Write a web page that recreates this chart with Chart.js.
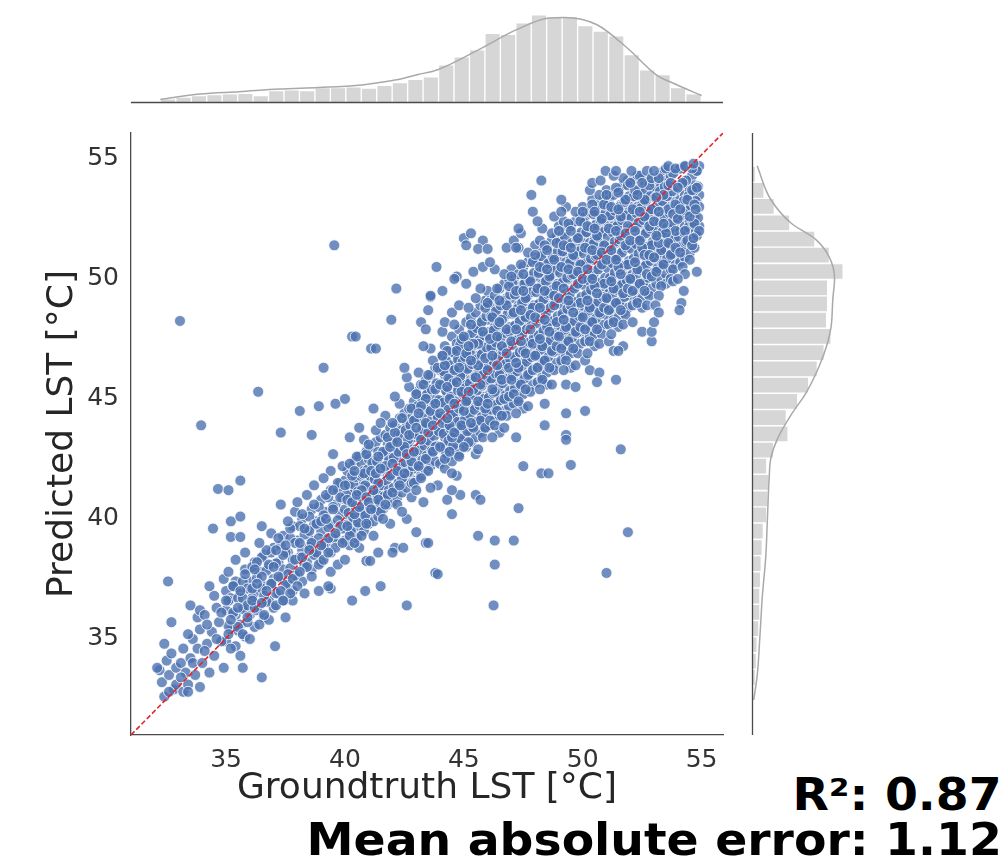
<!DOCTYPE html>
<html>
<head>
<meta charset="utf-8">
<script src="https://cdn.jsdelivr.net/npm/chart.js@4.4.1/dist/chart.umd.min.js"></script>
<style>
  body { margin: 0; background: #fff; width: 1007px; height: 865px; overflow: hidden; position: relative; }
  canvas { position: absolute; }
  #scatter { left: 0; top: 0; }
  #topHist { left: 131px; top: 0; }
  #rightHist { left: 750px; top: 133px; }
  .metric { position: absolute; right: 5px; font-family: 'DejaVu Sans', sans-serif; font-weight: bold;
            font-size: 44px; line-height: 44px; color: #000; white-space: nowrap;
            transform: scaleX(1.075); transform-origin: right center; }
</style>
</head>
<body>
<canvas id="scatter" width="740" height="865"></canvas>
<canvas id="topHist" width="592" height="104"></canvas>
<canvas id="rightHist" width="110" height="602"></canvas>
<div class="metric" style="top:773px">R²: 0.87</div>
<div class="metric" style="top:818px">Mean absolute error: 1.12</div>
<script>
// axis limits and ticks (shared by the joint plot)
const X_MIN = 31.0, X_MAX = 55.9;
const Y_MIN = 31.0, Y_MAX = 56.08;
const tickValues = [35, 40, 45, 50, 55];

// [groundtruth, predicted] pairs (fringe + scattered points)
const samples = [
  // 32-33
  [32.2,33.7],[32.4,32.6],[32.3,33.2],[32.5,34.1],[32.6,33.5],[32.8,32.9],[32.9,33.8],[32.7,34.4],[32.4,34.8],[32.9,33.1],[32.6,32.8],
  [32.56,37.4],[32.7,35.7],[33.06,48.25],[32.1,33.8],
  // 33-34
  [33.1,34.0],[33.2,32.8],[33.3,33.6],[33.2,34.6],[33.4,33.1],[33.5,34.2],[33.6,35.0],[33.7,33.5],[33.8,34.6],[33.9,33.0],[33.9,35.4],
  [33.4,35.2],[33.6,34.0],[33.1,33.4],[33.8,35.9],
  [33.95,43.9],[33.4,32.8],[33.5,36.4],[33.9,36.2],
  // 34-35
  [34.0,34.0],[34.1,36.0],[34.2,34.8],[34.3,33.6],[34.4,35.3],[34.5,34.3],[34.6,36.3],[34.7,35.7],[34.8,34.9],[34.9,33.8],[34.2,35.6],
  [34.5,36.8],[34.8,36.1],[34.3,37.2],[34.9,37.5],[34.6,35.0],[34.1,34.5],
  [34.45,39.6],[34.66,41.25],
  // 35-36
  [35.0,36.6],[35.1,35.2],[35.2,34.6],[35.3,37.2],[35.3,36.1],[35.5,35.5],[35.6,34.3],[35.7,36.7],[35.8,37.7],[35.9,35.9],[35.4,38.3],
  [35.6,37.0],[35.9,36.4],[35.2,35.8],[35.7,35.2],[35.8,38.6],[35.5,36.3],[35.1,37.8],
  [35.1,41.2],[35.6,41.6],[35.2,39.9],[35.6,40.1],[35.2,39.25],[35.6,39.25],[35.7,33.8],
  // 36-37
  [36.0,35.0],[36.1,37.1],[36.2,36.3],[36.3,38.2],[36.4,35.6],[36.5,37.6],[36.6,36.8],[36.7,38.7],[36.8,35.8],[36.9,37.3],[36.2,37.9],
  [36.4,39.0],[36.6,36.0],[36.8,38.1],[36.1,36.6],[36.5,36.5],[36.9,39.4],[36.3,37.3],[36.7,37.0],
  [36.5,39.7],[36.35,45.3],[36.5,33.4],
  // 37-38
  [37.0,38.0],[37.1,36.4],[37.2,39.2],[37.3,37.0],[37.4,38.5],[37.5,35.9],[37.6,37.7],[37.7,39.6],[37.8,36.6],[37.9,38.3],[37.2,37.6],
  [37.5,38.9],[37.7,36.9],[37.9,40.3],[37.1,38.7],[37.4,36.6],[37.6,39.9],[37.8,37.5],[37.3,40.6],
  [37.06,34.7],[37.3,43.6],
  // 38-39
  [38.0,37.2],[38.1,39.0],[38.2,40.2],[38.3,36.9],[38.4,38.0],[38.5,39.5],[38.6,37.6],[38.7,40.6],[38.8,38.6],[38.9,37.0],[38.2,38.4],
  [38.4,41.0],[38.6,39.0],[38.8,39.8],[38.1,37.8],[38.3,39.6],[38.5,38.7],[38.7,41.4],[38.9,38.1],[38.0,40.7],
  [38.1,44.5],[38.9,44.7],[38.6,43.5],
  // 39-40
  [39.0,39.9],[39.1,38.3],[39.2,41.0],[39.3,39.2],[39.4,37.8],[39.5,40.4],[39.6,38.8],[39.7,41.5],[39.8,39.7],[39.9,42.2],[39.2,40.0],
  [39.4,42.0],[39.6,39.4],[39.8,40.9],[39.1,41.7],[39.3,38.6],[39.5,41.2],[39.7,38.1],[39.9,39.0],[39.0,38.9],[39.5,42.7],
  [39.55,51.4],[39.1,46.3],[39.6,44.8],[39.4,37.1],[39.3,37.2],
  // 40-41
  [40.0,38.3],[40.1,40.8],[40.2,39.3],[40.3,41.8],[40.4,40.2],[40.5,42.6],[40.6,38.8],[40.7,41.2],[40.8,43.3],[40.9,39.8],[40.0,41.4],
  [40.2,42.3],[40.4,39.0],[40.6,40.5],[40.8,41.9],[40.1,39.7],[40.3,40.7],[40.5,41.0],[40.7,39.3],[40.9,42.7],[40.2,43.4],[40.6,43.8],
  [40.9,40.9],[40.4,42.0],
  [40.0,45.0],[40.3,47.6],[40.45,47.6],[40.3,36.6],[40.85,37.0],
  // 41-42
  [41.0,40.7],[41.1,42.0],[41.2,39.3],[41.3,43.7],[41.4,41.5],[41.5,40.3],[41.6,42.8],[41.7,44.3],[41.8,41.0],[41.9,39.8],[41.0,43.1],
  [41.2,41.2],[41.4,42.6],[41.6,40.0],[41.8,43.4],[41.1,40.4],[41.3,41.9],[41.5,44.0],[41.7,42.2],[41.9,41.8],[41.2,44.6],[41.5,42.1],
  [41.9,43.0],[41.4,40.8],[41.7,40.6],
  [41.1,47.1],[41.3,47.1],[41.95,48.3],[41.5,37.2],[41.4,38.6],[40.9,38.25],[41.06,38.25],
  // 42-43
  [42.0,42.3],[42.1,43.6],[42.2,40.6],[42.3,44.8],[42.4,41.7],[42.5,43.0],[42.6,40.0],[42.7,45.5],[42.8,42.4],[42.9,44.1],[42.0,41.1],
  [42.2,42.0],[42.4,44.2],[42.6,42.7],[42.8,40.9],[42.1,45.1],[42.3,41.4],[42.5,41.9],[42.7,43.5],[42.9,42.8],[42.2,43.2],[42.6,45.9],
  [42.8,44.6],[42.4,40.3],[42.9,41.5],[42.0,44.0],[42.5,46.3],
  [42.16,49.6],[42.1,38.8],[42.45,38.8],[42.0,38.6],[42.6,36.4],
  // 43-44
  [43.0,41.2],[43.1,46.1],[43.2,43.3],[43.3,40.7],[43.4,45.0],[43.5,42.0],[43.6,44.5],[43.7,46.6],[43.8,43.0],[43.9,41.4],[43.0,43.8],
  [43.2,44.7],[43.4,42.5],[43.6,41.3],[43.8,45.4],[43.1,42.2],[43.3,45.6],[43.5,43.6],[43.7,42.8],[43.9,44.2],[43.0,45.2],[43.2,41.7],
  [43.4,44.0],[43.6,47.1],[43.8,44.8],[43.5,46.0],[43.9,46.3],[43.1,44.4],[43.7,43.9],
  [43.85,50.5],[43.6,49.25],[43.5,48.7],[43.2,48.2],[43.4,47.9],[43.3,47.2],[43.4,39.0],[43.0,39.45],[43.8,37.75],[43.5,39.0],
  // 44-45
  [44.0,45.6],[44.1,44.0],[44.2,42.5],[44.3,47.0],[44.4,45.0],[44.5,43.4],[44.6,46.2],[44.7,41.8],[44.8,44.6],[44.9,47.5],[44.0,43.0],
  [44.2,46.4],[44.4,43.9],[44.6,44.8],[44.8,42.6],[44.1,47.8],[44.3,45.5],[44.5,41.9],[44.7,47.0],[44.9,45.3],[44.0,44.4],[44.2,48.2],
  [44.4,42.8],[44.6,43.6],[44.8,46.3],[44.3,44.2],[44.7,45.7],[44.9,43.9],[44.5,48.6],[44.1,46.8],[44.6,48.1],[44.8,48.9],
  [44.1,49.5],[43.6,49.3],[44.7,50.1],[44.6,50.0],[44.5,40.2],[44.3,40.8],[44.85,41.0],[44.5,41.2],[43.9,37.7],
  // 45-46
  [45.0,44.5],[45.1,46.9],[45.2,43.2],[45.3,48.1],[45.4,45.4],[45.5,42.7],[45.6,47.3],[45.7,44.1],[45.8,46.0],[45.9,48.8],[45.0,47.6],
  [45.2,45.3],[45.4,43.8],[45.6,46.4],[45.8,43.4],[45.1,44.9],[45.3,46.6],[45.5,49.2],[45.7,45.6],[45.9,44.6],[45.0,43.0],[45.2,48.8],
  [45.4,47.3],[45.6,42.9],[45.8,47.8],[45.3,44.0],[45.5,45.9],[45.7,49.6],[45.9,46.7],[45.1,49.8],[45.4,50.3],[45.8,50.5],[45.6,44.9],
  [45.2,47.2],[45.9,43.8],
  [45.0,51.7],[45.3,51.9],[45.1,51.4],[45.8,51.6],[45.6,51.25],[45.6,39.3],[45.5,41.0],[45.7,40.8],
  // 46-47
  [46.0,46.2],[46.1,44.1],[46.2,48.4],[46.3,45.3],[46.4,49.6],[46.5,43.6],[46.6,47.2],[46.7,45.0],[46.8,48.9],[46.9,46.3],[46.0,49.0],
  [46.2,46.8],[46.4,44.5],[46.6,48.3],[46.8,44.3],[46.1,47.5],[46.3,43.9],[46.5,46.0],[46.7,50.2],[46.9,47.8],[46.0,44.8],[46.2,45.4],
  [46.4,47.6],[46.6,45.8],[46.8,46.9],[46.3,50.4],[46.5,49.1],[46.7,43.8],[46.9,49.7],[46.1,50.7],[46.4,46.4],[46.8,47.9],[46.6,44.3],
  [46.2,43.4],[46.5,48.2],[46.9,45.1],
  [46.0,51.25],[46.8,51.3],[46.3,39.1],[46.3,38.1],[46.25,36.4],
  // 47-48
  [47.0,47.4],[47.1,45.2],[47.2,49.5],[47.3,46.3],[47.4,50.6],[47.5,44.6],[47.6,48.4],[47.7,46.0],[47.8,49.9],[47.9,47.3],[47.0,50.1],
  [47.2,47.9],[47.4,45.6],[47.6,49.2],[47.8,45.3],[47.1,48.6],[47.3,44.9],[47.5,47.0],[47.7,51.1],[47.9,48.8],[47.0,45.8],[47.2,46.5],
  [47.4,48.7],[47.6,46.9],[47.8,47.9],[47.3,51.3],[47.5,50.2],[47.7,44.7],[47.9,50.7],[47.1,51.6],[47.4,47.4],[47.8,48.5],[47.6,45.4],
  [47.2,44.4],[47.5,49.5],[47.9,46.2],
  [47.2,51.3],[47.4,51.9],[47.3,52.1],[47.84,53.5],[47.9,52.8],[47.5,42.2],[47.3,40.45],[47.1,39.1],[47.2,43.4],
  // 48-49
  [48.0,48.4],[48.1,46.3],[48.2,50.5],[48.3,47.2],[48.4,51.4],[48.5,45.6],[48.6,49.4],[48.7,47.0],[48.8,50.8],[48.9,48.2],[48.0,51.0],
  [48.2,48.8],[48.4,46.6],[48.6,50.1],[48.8,46.2],[48.1,49.6],[48.3,45.8],[48.5,48.0],[48.7,51.9],[48.9,49.7],[48.0,46.8],[48.2,47.5],
  [48.4,49.5],[48.6,47.8],[48.8,48.9],[48.3,52.1],[48.5,51.2],[48.7,45.6],[48.9,51.5],[48.1,52.4],[48.4,48.3],[48.8,49.3],[48.6,46.3],
  [48.2,45.4],[48.5,50.4],[48.9,47.2],
  [48.26,54.1],[48.8,52.6],[48.4,43.9],[48.26,41.9],[48.56,41.9],[48.4,44.8],
  // 49-50
  [49.0,49.2],[49.1,47.1],[49.2,51.4],[49.3,48.0],[49.4,52.3],[49.5,46.3],[49.6,50.2],[49.7,47.8],[49.8,51.7],[49.9,49.0],[49.0,52.0],
  [49.2,49.6],[49.4,47.4],[49.6,51.0],[49.8,46.9],[49.1,50.5],[49.3,46.6],[49.5,48.9],[49.7,52.8],[49.9,50.6],[49.0,47.6],[49.2,48.3],
  [49.4,50.4],[49.6,48.6],[49.8,49.8],[49.3,53.0],[49.5,52.0],[49.7,46.4],[49.9,52.4],[49.1,53.3],[49.4,49.1],[49.8,50.3],[49.6,47.1],
  [49.2,46.2],[49.5,51.3],[49.9,48.0],[49.3,45.6],[49.7,45.5],
  [49.1,52.8],[49.3,43.5],[49.3,43.3],[49.5,42.25],[49.3,44.4],
  // 50-51
  [50.0,50.0],[50.1,47.9],[50.2,52.2],[50.3,48.8],[50.4,53.1],[50.5,47.2],[50.6,51.0],[50.7,48.6],[50.8,52.5],[50.9,49.8],[50.0,52.8],
  [50.2,50.4],[50.4,48.2],[50.6,51.8],[50.8,47.7],[50.1,51.3],[50.3,47.4],[50.5,49.7],[50.7,53.5],[50.9,51.4],[50.0,48.4],[50.2,49.1],
  [50.4,51.2],[50.6,49.4],[50.8,50.6],[50.3,53.7],[50.5,52.8],[50.7,47.3],[50.9,53.1],[50.1,46.6],[50.4,50.0],[50.8,51.1],[50.6,47.9],
  [50.2,46.9],[50.5,52.1],[50.9,48.8],[50.3,46.2],[50.7,46.1],
  [50.4,54.0],[50.75,54.1],[50.96,54.5],[50.6,45.7],[50.1,44.5],[51.0,37.75],
  // 51-52
  [51.0,50.8],[51.1,48.7],[51.2,53.0],[51.3,49.6],[51.4,53.8],[51.5,48.0],[51.6,51.8],[51.7,49.4],[51.8,53.3],[51.9,50.6],[51.0,53.5],
  [51.2,51.2],[51.4,49.0],[51.6,52.6],[51.8,48.5],[51.1,52.1],[51.3,48.2],[51.5,50.5],[51.7,54.2],[51.9,52.2],[51.0,49.2],[51.2,49.9],
  [51.4,52.0],[51.6,50.2],[51.8,51.4],[51.3,54.3],[51.5,53.6],[51.7,48.1],[51.9,53.9],[51.1,47.4],[51.4,50.8],[51.8,51.9],[51.6,48.7],
  [51.2,47.7],[51.5,52.9],[51.9,49.6],[51.3,47.0],[51.7,47.2],
  [51.4,54.5],[51.4,45.8],[51.5,47.0],[51.6,42.9],[51.9,39.45],
  // 52-53
  [52.0,51.6],[52.1,49.5],[52.2,53.7],[52.3,50.4],[52.4,54.3],[52.5,48.8],[52.6,52.6],[52.7,50.2],[52.8,53.9],[52.9,51.4],[52.0,54.0],
  [52.2,52.0],[52.4,49.8],[52.6,53.3],[52.8,49.3],[52.1,52.9],[52.3,49.0],[52.5,51.3],[52.7,54.5],[52.9,52.9],[52.0,50.0],[52.2,50.7],
  [52.4,52.8],[52.6,51.0],[52.8,52.2],[52.3,53.5],[52.5,54.0],[52.7,48.9],[52.9,54.2],[52.1,48.2],[52.4,51.6],[52.8,51.0],[52.6,49.5],
  [52.9,50.1],
  [52.05,54.5],[52.5,47.8],[52.9,47.4],[52.9,47.8],[53.0,48.2],
  // 53-54
  [53.0,52.4],[53.1,50.3],[53.2,54.2],[53.3,51.2],[53.4,53.5],[53.5,49.8],[53.6,52.9],[53.7,51.0],[53.8,54.4],[53.9,52.0],[53.0,54.5],
  [53.2,52.8],[53.4,50.6],[53.6,53.9],[53.8,50.4],[53.1,53.4],[53.3,49.7],[53.5,51.9],[53.7,54.0],[53.9,53.1],[53.0,50.9],[53.2,51.5],
  [53.4,52.3],[53.6,51.5],[53.8,52.7],[53.5,54.6],[53.9,51.3],[53.1,51.8],[53.7,50.0],
  [53.6,54.7],[53.9,54.6],[53.2,49.3],[53.06,48.9],[53.8,49.9],[53.2,48.6],
  // 54-55
  [54.0,52.5],[54.1,51.1],[54.2,54.0],[54.3,52.0],[54.4,53.3],[54.5,50.8],[54.6,53.7],[54.7,52.3],[54.8,54.5],[54.9,53.0],[54.0,53.8],
  [54.2,50.5],[54.4,51.6],[54.6,54.6],[54.8,51.8],[54.1,52.9],[54.3,54.7],[54.5,52.6],[54.7,53.1],[54.9,52.0],[54.3,50.2],[54.6,51.4],
  [54.8,53.8],[54.0,50.0],
  [54.66,54.8],[54.75,52.9],[54.66,51.7],[54.8,50.3],[54.25,49.5],[54.15,49.0],[54.07,48.7]
];

// core of the cloud, read column by column: [groundtruth, predicted, predicted, ...]
const denseColumns = [
  [35.0,34.9,36.2,37.0],[35.2,35.4,36.7],[35.4,34.7,36.0,37.4],[35.6,35.6,36.9],[35.8,35.1,36.3,37.9],
  [36.0,36.0,37.4],[36.2,35.5,36.9,38.2],[36.4,36.4,37.8],[36.6,35.9,37.2,38.5],[36.8,36.6,38.0],
  [37.0,36.3,37.5,38.8],[37.2,36.9,38.2],[37.4,36.6,37.9,39.3],[37.6,37.3,38.6],[37.8,37.0,38.3,39.7],
  [38.0,37.7,39.1],[38.2,37.4,38.7,40.0],[38.4,38.2,39.5],[38.6,37.9,39.1,40.4],[38.8,38.5,39.9],
  [39.0,38.2,39.5,40.8],[39.2,39.0,40.3],[39.4,38.6,39.8,41.2],[39.6,39.3,40.6],[39.8,39.0,40.2,41.5],
  [40.0,39.1,40.4,41.6],[40.1,39.6,40.9,42.0],[40.2,38.9,40.1,41.3],[40.3,39.4,40.7,42.2],[40.4,39.9,41.1,42.4],
  [40.5,39.2,40.5,41.8],[40.6,39.7,41.0,42.6],[40.7,40.1,41.4,42.3],[40.8,39.5,40.8,42.0],[40.9,40.0,41.3,42.8],
  [41.0,39.8,41.1,42.5],[41.1,40.3,41.7,43.0],[41.2,39.9,41.0,42.3],[41.3,40.5,41.6,43.2],[41.4,40.1,41.3,42.8],
  [41.5,40.8,42.0,43.4],[41.6,40.4,41.5,42.7],[41.7,41.0,42.2,43.5],[41.8,40.6,41.8,43.1],[41.9,41.2,42.5,43.8],
  [42.0,40.7,41.9,43.2],[42.1,41.3,42.6,43.9],[42.2,40.9,42.1,43.5],[42.3,41.5,42.8,44.2],[42.4,41.1,42.4,43.7],
  [42.5,41.7,43.0,44.4],[42.6,41.3,42.6,44.0],[42.7,41.9,43.2,44.6],[42.8,41.5,42.9,44.2],[42.9,42.1,43.4,44.9],
  [43.0,41.6,42.9,44.1,45.3],[43.1,42.2,43.5,44.7],[43.2,41.8,43.1,44.4,45.6],[43.3,42.4,43.7,45.0],[43.4,42.0,43.3,44.6,45.8],
  [43.5,42.6,43.9,45.2],[43.6,42.2,43.5,44.8,46.0],[43.7,42.8,44.1,45.4],[43.8,42.4,43.7,45.0,46.3],[43.9,43.0,44.3,45.6],
  [44.0,42.3,43.6,44.9,46.2],[44.1,42.9,44.2,45.5,46.8],[44.2,42.1,43.4,44.7,46.0,47.2],[44.3,42.6,43.9,45.2,46.5],[44.4,43.1,44.4,45.8,47.0],
  [44.5,42.4,43.7,45.0,46.3,47.6],[44.6,42.9,44.2,45.6,46.9],[44.7,43.4,44.7,46.0,47.3],[44.8,42.7,44.0,45.3,46.6,47.9],[44.9,43.2,44.5,45.9,47.2],
  [45.0,43.5,44.8,46.1,47.4],[45.1,43.0,44.3,45.6,46.9,48.2],[45.2,43.7,45.0,46.3,47.6],[45.3,43.2,44.5,45.8,47.1,48.4],[45.4,43.9,45.2,46.6,47.9],
  [45.5,43.4,44.7,46.0,47.3,48.6],[45.6,44.1,45.4,46.8,48.1],[45.7,43.6,44.9,46.2,47.5,48.9],[45.8,44.3,45.7,47.0,48.3],[45.9,43.8,45.1,46.5,47.8,49.1],
  [46.0,44.4,45.7,47.0,48.3,49.5],[46.1,43.9,45.2,46.5,47.8,49.1],[46.2,44.6,45.9,47.2,48.5],[46.3,44.1,45.4,46.7,48.0,49.3],[46.4,44.8,46.1,47.4,48.8],
  [46.5,44.3,45.6,46.9,48.2,49.6],[46.6,45.0,46.3,47.7,49.0],[46.7,44.5,45.8,47.1,48.4,49.8],[46.8,45.2,46.5,47.9,49.2],[46.9,44.7,46.0,47.3,48.7,50.0],
  [47.0,45.3,46.6,47.9,49.2,50.4],[47.1,44.8,46.1,47.4,48.7,50.0],[47.2,45.5,46.8,48.1,49.4],[47.3,45.0,46.3,47.6,48.9,50.2],[47.4,45.7,47.0,48.3,49.7],
  [47.5,45.2,46.5,47.8,49.1,50.5],[47.6,45.9,47.2,48.6,49.9],[47.7,45.4,46.7,48.0,49.3,50.7],[47.8,46.1,47.4,48.8,50.1],[47.9,45.6,46.9,48.2,49.6,50.9],
  [48.0,46.2,47.5,48.8,50.1,51.4],[48.1,45.7,47.0,48.3,49.6,50.9],[48.2,46.4,47.7,49.0,50.3,51.6],[48.3,45.9,47.2,48.5,49.8,51.1],[48.4,46.6,47.9,49.2,50.6],
  [48.5,46.1,47.4,48.7,50.0,51.3],[48.6,46.8,48.1,49.5,50.8],[48.7,46.3,47.6,48.9,50.2,51.6],[48.8,47.0,48.3,49.7,51.0],[48.9,46.5,47.8,49.1,50.5,51.8],
  [49.0,47.0,48.3,49.6,50.9,52.2],[49.1,46.6,47.9,49.2,50.5,51.8],[49.2,47.2,48.5,49.8,51.1,52.4],[49.3,46.8,48.1,49.4,50.7,52.0],[49.4,47.4,48.7,50.0,51.3],
  [49.5,46.9,48.2,49.5,50.8,52.2],[49.6,47.6,48.9,50.3,51.6],[49.7,47.1,48.4,49.7,51.0,52.4],[49.8,47.8,49.1,50.5,51.8],[49.9,47.3,48.6,49.9,51.3,52.6],
  [50.0,47.8,49.1,50.4,51.7,53.0],[50.1,47.4,48.7,50.0,51.3,52.6],[50.2,48.0,49.3,50.6,51.9],[50.3,47.6,48.9,50.2,51.5,52.8],[50.4,48.2,49.5,50.8,52.1,53.3],
  [50.5,47.7,49.0,50.3,51.6,52.9],[50.6,48.4,49.7,51.1,52.4],[50.7,47.9,49.2,50.5,51.8,53.1],[50.8,48.6,49.9,51.3,52.6],[50.9,48.1,49.4,50.7,52.1,53.4],
  [51.0,48.5,49.8,51.1,52.4,53.7],[51.1,48.1,49.4,50.7,52.0,53.3],[51.2,48.7,50.0,51.3,52.6],[51.3,48.3,49.6,50.9,52.2,53.5],[51.4,48.9,50.2,51.5,52.9],
  [51.5,48.4,49.7,51.0,52.3,53.7],[51.6,49.1,50.4,51.8,53.1],[51.7,48.6,49.9,51.2,52.5,53.9],[51.8,49.3,50.6,52.0,53.3],[51.9,48.8,50.1,51.4,52.8,54.1],
  [52.0,49.3,50.6,51.9,53.2],[52.1,48.9,50.2,51.5,52.8,54.1],[52.2,49.5,50.8,52.1,53.4],[52.3,49.1,50.4,51.7,53.0,54.3],[52.4,49.7,51.0,52.3,53.6],
  [52.5,49.2,50.5,51.8,53.1,54.2],[52.6,49.9,51.2,52.6,53.9],[52.7,49.4,50.7,52.0,53.3],[52.8,50.1,51.4,52.8,54.1],[52.9,49.6,50.9,52.2,53.6],
  [53.0,50.2,51.5,52.8,54.0],[53.1,49.8,51.1,52.4,53.7],[53.2,50.4,51.7,53.0,54.3],[53.3,50.0,51.3,52.6,53.9],[53.4,50.6,51.9,53.2,54.5],
  [53.5,50.2,51.5,52.8,54.1],[53.6,50.8,52.1,53.4],[53.7,50.4,51.7,53.0,54.3],[53.8,51.0,52.3,53.6],[53.9,50.6,51.9,53.2,54.5],
  [54.0,51.1,52.4,53.7],[54.1,50.7,52.0,53.3,54.6],[54.2,51.3,52.6,53.9],[54.3,50.9,52.2,53.5,54.7],[54.4,51.5,52.8,54.1],
  [54.5,51.1,52.4,53.7],[54.6,51.7,53.0,54.3],[54.7,51.3,52.6,53.9],[54.8,51.9,53.2,54.5],[54.9,52.2,53.5,54.7]
];

// points filling the gaps between the core columns: [groundtruth, predicted, ...]
const gapColumns = [
  [35.1,35.55,36.6],[35.3,36.05,37.2],[35.5,35.35,36.7],[35.7,36.25,37.4],[35.9,35.7,37.1],
  [36.1,36.7,38.0],[36.3,36.2,37.55],[36.5,37.1,38.4],[36.7,36.55,37.85],[36.9,37.3,38.6],
  [37.1,36.9,38.15],[37.3,37.55,38.9],[37.5,37.25,38.6],[37.7,37.95,39.2],[37.9,37.65,39.0],
  [38.1,38.4,39.7],[38.3,38.05,39.35],[38.5,38.85,40.1],[38.7,38.5,39.75],[38.9,39.2,40.5],
  [39.1,38.85,40.15],[39.3,39.65,40.9],[39.5,39.2,40.5],[39.7,39.95,41.2],[39.9,39.6,40.85],
  [40.05,39.75,41.0],[40.15,40.25,41.45],[40.25,39.5,40.7],[40.35,40.05,41.45],[40.45,40.5,41.75],
  [40.55,39.85,41.15],[40.65,40.35,41.8],[40.75,40.75,41.85],[40.85,40.15,41.4],[40.95,40.65,42.05],
  [41.05,40.45,41.8],[41.15,41.0,42.35],[41.25,40.45,41.65],[41.35,41.05,42.4],[41.45,40.7,42.05],
  [41.55,41.4,42.7],[41.65,40.95,42.1],[41.75,41.6,42.85],[41.85,41.2,42.45],[41.95,41.85,43.15],
  [42.05,41.3,42.55],[42.15,41.95,43.25],[42.25,41.5,42.8],[42.35,42.15,43.5],[42.45,41.75,43.05],
  [42.55,42.35,43.7],[42.65,41.95,43.3],[42.75,42.55,43.9],[42.85,42.2,43.55],[42.95,42.75,44.15],
  [43.05,42.25,43.5,44.7],[43.15,42.85,44.1],[43.25,42.45,43.75,45.0],[43.35,43.05,44.35],[43.45,42.65,43.95,45.2],
  [43.55,43.25,44.55],[43.65,42.85,44.15,45.4],[43.75,43.45,44.75],[43.85,43.05,44.35,45.65],[43.95,43.65,44.95],
  [44.05,42.95,44.25,45.55],[44.15,43.55,44.85,46.15],[44.25,42.75,44.05,45.35,46.6],[44.35,43.25,44.55,45.85],[44.45,43.75,45.1,46.4],
  [44.55,43.05,44.35,45.65,46.95],[44.65,43.55,44.9,46.25],[44.75,44.05,45.35,46.65],[44.85,43.35,44.65,45.95,47.25],[44.95,43.85,45.2,46.55],
  [45.05,44.15,45.45,46.75],[45.15,43.65,44.95,46.25,47.55],[45.25,44.35,45.65,46.95],[45.35,43.85,45.15,46.45,47.75],[45.45,44.55,45.9,47.25],
  [45.55,44.05,45.35,46.65,47.95],[45.65,44.75,46.1,47.45],[45.75,44.25,45.55,46.85,48.2],[45.85,45.0,46.35,47.65],[45.95,44.45,45.8,47.15,48.45],
  [46.05,45.05,46.35,47.65,48.9],[46.15,44.55,45.85,47.15,48.45],[46.25,45.25,46.55,47.85],[46.35,44.75,46.05,47.35,48.65],[46.45,45.45,46.75,48.1],
  [46.55,44.95,46.25,47.55,48.9],[46.65,45.65,47.0,48.35],[46.75,45.15,46.45,47.75,49.1],[46.85,45.85,47.2,48.55],[46.95,45.35,46.65,48.0,49.35],
  [47.05,45.95,47.25,48.55,49.8],[47.15,45.45,46.75,48.05,49.35],[47.25,46.15,47.45,48.75],[47.35,45.65,46.95,48.25,49.55],[47.45,46.35,47.65,49.0],
  [47.55,45.85,47.15,48.45,49.8],[47.65,46.55,47.9,49.25],[47.75,46.05,47.35,48.65,50.0],[47.85,46.75,48.1,49.45],[47.95,46.25,47.55,48.9,50.25],
  [48.05,46.85,48.15,49.45,50.75],[48.15,46.35,47.65,48.95,50.25],[48.25,47.05,48.35,49.65,50.95],[48.35,46.55,47.85,49.15,50.45],[48.45,47.25,48.55,49.9],
  [48.55,46.75,48.05,49.35,50.65],[48.65,47.45,48.8,50.15],[48.75,46.95,48.25,49.55,50.9],[48.85,47.65,49.0,50.35],[48.95,47.15,48.45,49.8,51.15],
  [49.05,47.65,48.95,50.25,51.55],[49.15,47.25,48.55,49.85,51.15],[49.25,47.85,49.15,50.45,51.75],[49.35,47.45,48.75,50.05,51.35],[49.45,48.05,49.35,50.65],
  [49.55,47.55,48.85,50.15,51.5],[49.65,48.25,49.6,50.95],[49.75,47.75,49.05,50.35,51.7],[49.85,48.45,49.8,51.15],[49.95,47.95,49.25,50.6,51.95],
  [50.05,48.45,49.75,51.05,52.35],[50.15,48.05,49.35,50.65,51.95],[50.25,48.65,49.95,51.25],[50.35,48.25,49.55,50.85,52.15],[50.45,48.85,50.15,51.45,52.7],
  [50.55,48.35,49.65,50.95,52.25],[50.65,49.05,50.4,51.75],[50.75,48.55,49.85,51.15,52.45],[50.85,49.25,50.6,51.95],[50.95,48.75,50.05,51.4,52.75],
  [51.05,49.15,50.45,51.75,53.05],[51.15,48.75,50.05,51.35,52.65],[51.25,49.35,50.65,51.95],[51.35,48.95,50.25,51.55,52.85],[51.45,49.55,50.85,52.2],
  [51.55,49.05,50.35,51.65,53.0],[51.65,49.75,51.1,52.45],[51.75,49.25,50.55,51.85,53.2],[51.85,49.95,51.3,52.65],[51.95,49.45,50.75,52.1,53.45],
  [52.05,49.95,51.25,52.55],[52.15,49.55,50.85,52.15,53.45],[52.25,50.15,51.45,52.75],[52.35,49.75,51.05,52.35,53.65],[52.45,50.35,51.65,52.95],
  [52.55,49.85,51.15,52.45,53.65],[52.65,50.55,51.9,53.25],[52.75,50.05,51.35,52.65],[52.85,50.75,52.1,53.45],[52.95,50.25,51.55,52.9],
  [53.05,50.85,52.15,53.4],[53.15,50.45,51.75,53.05],[53.25,51.05,52.35,53.65],[53.35,50.65,51.95,53.25],[53.45,51.25,52.55,53.85],
  [53.55,50.85,52.15,53.45],[53.65,51.45,52.75],[53.75,51.05,52.35,53.65],[53.85,51.65,52.95],[53.95,51.25,52.55,53.85],
  [54.05,51.75,53.05],[54.15,51.35,52.65,53.95],[54.25,51.95,53.25],[54.35,51.55,52.85,54.1],[54.45,52.15,53.45],
  [54.55,51.75,53.05],[54.65,52.35,53.65],[54.75,51.95,53.25],[54.85,52.55,53.85]
];

// marginal histogram of groundtruth (top)
const gtBinCenters = [32.56, 33.21, 33.86, 34.51, 35.16, 35.81, 36.46, 37.11, 37.76, 38.41, 39.06, 39.71,
  40.36, 41.01, 41.66, 42.31, 42.96, 43.61, 44.26, 44.91, 45.56, 46.21, 46.86, 47.51, 48.16, 48.81,
  49.46, 50.11, 50.76, 51.41, 52.06, 52.71, 53.36, 54.01, 54.66];
const gtCounts = [10, 15, 20, 23, 25, 27, 20, 35, 38, 35, 45, 45, 47, 43, 52, 60, 70, 78, 115, 140, 162,
  213, 210, 245, 270, 262, 265, 237, 220, 205, 147, 100, 85, 45, 25];
const gtKdeX = [32.23, 33.9, 35.56, 37.23, 38.9, 40.57, 41.4, 42.24, 43.07, 43.9, 45.57, 47.24, 48.57,
  49.24, 50.58, 51.91, 53.08, 53.91, 55.0];
const gtKdeY = [8, 25, 32, 40, 45, 52, 60, 70, 85, 100, 160, 225, 260, 262, 240, 165, 85, 55, 20];

// marginal histogram of predictions (right)
const predBinCenters = [54.37, 53.69, 53.02, 52.34, 51.66, 50.99, 50.31, 49.63, 48.96, 48.28, 47.61,
  46.93, 46.25, 45.58, 44.90, 44.22, 43.55, 42.87, 42.20, 41.52, 40.84, 40.17, 39.49, 38.81, 38.14,
  37.46, 36.79, 36.11, 35.43, 34.76, 34.08, 33.40, 32.73];
const predCounts = [10, 35, 65, 110, 183, 225, 265, 220, 220, 217, 230, 210, 190, 165, 133, 100, 105,
  63, 43, 50, 47, 43, 33, 30, 27, 25, 23, 23, 20, 15, 13, 10, 5];
const predKdeY = [32.46, 33.46, 35.11, 36.77, 38.42, 40.07, 41.72, 42.55, 43.37, 44.37, 45.20, 46.35,
  47.35, 48.01, 49.17, 50.0, 50.90, 51.65, 52.31, 53.30, 54.71];
const predKdeX = [5, 15, 23, 30, 40, 45, 50, 55, 75, 115, 155, 195, 220, 230, 235, 240, 225, 185, 115, 55, 15];

const FONT = "'DejaVu Sans', sans-serif";
const SPINE = '#4a4a4a';
const BAR_GREY = '#d6d6d6';
const KDE_GREY = '#a9a9a9';

const columnPairs = cols => cols.flatMap(([gt, ...preds]) => preds.map(p => [gt, p]));
const allPairs = columnPairs(denseColumns).concat(columnPairs(gapColumns), samples);

// spine for the marginal plots
function spine(side) {
  return {
    id: 'spine-' + side,
    afterDraw(chart) {
      const { ctx, chartArea: a } = chart;
      ctx.save();
      ctx.strokeStyle = SPINE;
      ctx.lineWidth = 1.3;
      ctx.beginPath();
      if (side === 'bottom') { ctx.moveTo(a.left, a.bottom + 0.5); ctx.lineTo(a.right, a.bottom + 0.5); }
      else { ctx.moveTo(a.left + 0.5, a.top); ctx.lineTo(a.left + 0.5, a.bottom); }
      ctx.stroke();
      ctx.restore();
    }
  };
}

const common = {
  responsive: false,
  animation: false,
  events: [],
  plugins: { legend: { display: false }, tooltip: { enabled: false } }
};

new Chart(document.getElementById('scatter'), {
  type: 'scatter',
  data: {
    datasets: [
      {
        data: allPairs.map(([x, y]) => ({ x, y })),
        backgroundColor: 'rgba(76,114,176,0.8)',
        borderColor: 'rgba(255,255,255,0.8)',
        borderWidth: 1,
        pointRadius: 5.5,
        order: 2
      },
      {
        type: 'line',
        data: [{ x: X_MIN, y: Y_MIN }, { x: X_MAX, y: Y_MAX }],
        borderColor: '#e3242b',
        borderWidth: 1.6,
        borderDash: [5, 2.5],
        pointRadius: 0,
        order: 1
      }
    ]
  },
  options: {
    ...common,
    layout: { padding: { top: 133, right: 17, left: 0, bottom: 0 } },
    scales: {
      x: {
        type: 'linear', min: X_MIN, max: X_MAX,
        afterFit: s => { s.height = 130; },
        afterBuildTicks: s => { s.ticks = tickValues.map(v => ({ value: v })); },
        grid: { display: false, drawTicks: false },
        border: { display: true, color: SPINE, width: 1.3 },
        ticks: { font: { family: FONT, size: 25 }, color: '#333', padding: 10, maxRotation: 0, autoSkip: false },
        title: { display: true, text: 'Groundtruth LST [°C]', color: '#262626',
                 font: { family: FONT, size: 36 }, padding: { top: 0, bottom: 55 } }
      },
      y: {
        type: 'linear', min: Y_MIN, max: Y_MAX,
        afterFit: s => { s.width = 131; },
        afterBuildTicks: s => { s.ticks = tickValues.map(v => ({ value: v })); },
        grid: { display: false, drawTicks: false },
        border: { display: true, color: SPINE, width: 1.3 },
        ticks: { font: { family: FONT, size: 25 }, color: '#333', padding: 12, autoSkip: false },
        title: { display: true, text: 'Predicted LST [°C]', color: '#262626',
                 font: { family: FONT, size: 36 }, padding: { top: 41, bottom: 0 } }
      }
    }
  }
});

new Chart(document.getElementById('topHist'), {
  type: 'bar',
  data: {
    datasets: [
      {
        type: 'line',
        data: gtKdeX.map((x, i) => ({ x, y: gtKdeY[i] })),
        borderColor: KDE_GREY, borderWidth: 1.5, pointRadius: 0,
        cubicInterpolationMode: 'monotone', order: 0
      },
      {
        data: gtBinCenters.map((x, i) => ({ x, y: gtCounts[i] })),
        backgroundColor: BAR_GREY, borderColor: '#fff', borderWidth: 1,
        barPercentage: 1, categoryPercentage: 1, order: 1
      }
    ]
  },
  options: {
    ...common,
    layout: { padding: { bottom: 2 } },
    scales: {
      x: { type: 'linear', min: X_MIN, max: X_MAX, offset: false, display: false },
      y: { min: 0, max: 316, display: false }
    }
  },
  plugins: [spine('bottom')]
});

new Chart(document.getElementById('rightHist'), {
  type: 'bar',
  data: {
    datasets: [
      {
        type: 'line', indexAxis: 'y',
        data: predKdeY.map((y, i) => ({ x: predKdeX[i], y })),
        borderColor: KDE_GREY, borderWidth: 1.5, pointRadius: 0,
        cubicInterpolationMode: 'monotone', order: 0
      },
      {
        indexAxis: 'y',
        data: predBinCenters.map((y, i) => ({ x: predCounts[i], y })),
        backgroundColor: BAR_GREY, borderColor: '#fff', borderWidth: 1,
        barPercentage: 1, categoryPercentage: 1, order: 1
      }
    ]
  },
  options: {
    ...common,
    indexAxis: 'y',
    layout: { padding: { left: 2 } },
    scales: {
      y: { type: 'linear', min: Y_MIN, max: Y_MAX, offset: false, display: false },
      x: { type: 'linear', min: 0, max: 314, display: false }
    }
  },
  plugins: [spine('left')]
});
</script>
</body>
</html>
